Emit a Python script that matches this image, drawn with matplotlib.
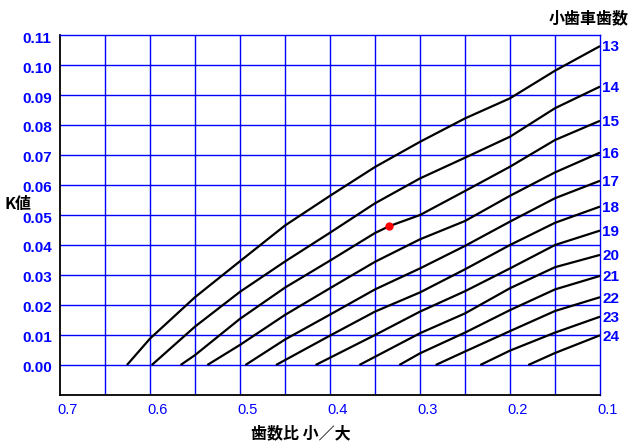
import matplotlib
matplotlib.use("Agg")
import matplotlib.pyplot as plt
import matplotlib.transforms as mtransforms

# ---- data ----
teeth = [13, 14, 15, 16, 17, 18, 19, 20, 21, 22, 23, 24]

ratio_13 = [0.6256, 0.60, 0.55, 0.50, 0.45, 0.40, 0.35, 0.30, 0.25, 0.20, 0.15, 0.10]
k_13 = [0.0, 0.0088, 0.0226, 0.0346, 0.0465, 0.0564, 0.0660, 0.0744, 0.0822, 0.0889, 0.0981, 0.1063]

ratio_14 = [0.598, 0.55, 0.50, 0.45, 0.40, 0.35, 0.30, 0.25, 0.20, 0.15, 0.10]
k_14 = [0.0, 0.0128, 0.0244, 0.0345, 0.0441, 0.0539, 0.0622, 0.0691, 0.0761, 0.0856, 0.0928]

ratio_15 = [0.566, 0.55, 0.50, 0.45, 0.40, 0.35, 0.334, 0.30, 0.25, 0.20, 0.15, 0.10]
k_15 = [0.0, 0.0033, 0.0154, 0.0258, 0.0348, 0.0440, 0.0463, 0.0500, 0.0580, 0.0661, 0.0750, 0.0814]

ratio_16 = [0.5363, 0.50, 0.45, 0.40, 0.35, 0.30, 0.25, 0.20, 0.15, 0.10]
k_16 = [0.0, 0.0067, 0.0167, 0.0256, 0.0344, 0.0419, 0.0480, 0.0564, 0.0642, 0.0708]

ratio_17 = [0.494, 0.45, 0.40, 0.35, 0.30, 0.25, 0.20, 0.15, 0.10]
k_17 = [0.0, 0.0085, 0.0168, 0.0252, 0.0322, 0.0397, 0.0478, 0.0556, 0.0614]

ratio_18 = [0.460, 0.40, 0.35, 0.30, 0.25, 0.20, 0.15, 0.10]
k_18 = [0.0, 0.0098, 0.0178, 0.0242, 0.0319, 0.0400, 0.0474, 0.0528]

ratio_19 = [0.4160, 0.35, 0.30, 0.25, 0.20, 0.15, 0.10]
k_19 = [0.0, 0.0100, 0.0178, 0.0246, 0.0322, 0.0400, 0.0448]

ratio_20 = [0.3674, 0.30, 0.25, 0.20, 0.15, 0.10]
k_20 = [0.0, 0.0106, 0.0172, 0.0256, 0.0326, 0.0367]

ratio_21 = [0.323, 0.30, 0.25, 0.20, 0.15, 0.10]
k_21 = [0.0, 0.0039, 0.0108, 0.0183, 0.0252, 0.0297]

ratio_22 = [0.2826, 0.25, 0.20, 0.15, 0.10]
k_22 = [0.0, 0.0045, 0.0113, 0.0180, 0.0226]

ratio_23 = [0.2330, 0.20, 0.15, 0.10]
k_23 = [0.0, 0.0048, 0.0108, 0.0161]

ratio_24 = [0.1797, 0.15, 0.10]
k_24 = [0.0, 0.0040, 0.0099]

curves_x = [ratio_13, ratio_14, ratio_15, ratio_16, ratio_17, ratio_18,
            ratio_19, ratio_20, ratio_21, ratio_22, ratio_23, ratio_24]
curves_y = [k_13, k_14, k_15, k_16, k_17, k_18, k_19, k_20, k_21, k_22, k_23, k_24]

point_x = [0.3341]
point_y = [0.0463]

y_ticks = [0.00, 0.01, 0.02, 0.03, 0.04, 0.05, 0.06, 0.07, 0.08, 0.09, 0.10, 0.11]
y_tick_labels = ["0.00", "0.01", "0.02", "0.03", "0.04", "0.05",
                 "0.06", "0.07", "0.08", "0.09", "0.10", "0.11"]
x_grid = [0.65, 0.60, 0.55, 0.50, 0.45, 0.40, 0.35, 0.30, 0.25, 0.20, 0.15]
x_ticks = [0.7, 0.6, 0.5, 0.4, 0.3, 0.2, 0.1]
x_tick_labels = ["0.7", "0.6", "0.5", "0.4", "0.3", "0.2", "0.1"]

x_label = "歯数比 小／大"
y_label = "K値"
right_title = "小歯車歯数"

# ---- styling ----
BLUE = "#0000ff"
W, H, DPI = 633, 447, 100
num_font = ["Liberation Sans", "DejaVu Sans"]
jp_font = ["Noto Sans CJK JP", "DejaVu Sans"]

fig = plt.figure(figsize=(W / DPI, H / DPI), dpi=DPI)
ax = fig.add_axes([60 / W, (H - 395) / H, 540 / W, 360 / H])
ax.set_xlim(0.7, 0.1)
ax.set_ylim(-0.01, 0.11)

for xv in x_grid:
    ax.axvline(xv, color=BLUE, lw=1.0, zorder=1)
for yv in y_ticks[:-1]:
    ax.axhline(yv, color=BLUE, lw=1.0, zorder=1)

for s in ("left", "bottom"):
    ax.spines[s].set_color("black")
    ax.spines[s].set_linewidth(1.3)
for s in ("top", "right"):
    ax.spines[s].set_color(BLUE)
    ax.spines[s].set_linewidth(1.0)

for xs, ys in zip(curves_x, curves_y):
    ax.plot(xs, ys, color="black", lw=1.6, zorder=3, solid_capstyle="butt")

ax.plot(point_x, point_y, "o", color="#ff0000", markersize=6, zorder=4,
        markeredgewidth=0)

ax.set_yticks(y_ticks)
ax.set_yticklabels(y_tick_labels, color=BLUE, fontweight="bold",
                   fontsize=11, family=num_font)
ax.set_xticks(x_ticks)
ax.set_xticklabels(x_tick_labels, color=BLUE, fontsize=10.5, family=num_font)
ax.tick_params(axis="both", length=0)
ax.tick_params(axis="y", pad=6)
ax.tick_params(axis="x", pad=6)
off = mtransforms.ScaledTranslation(-3 / DPI, 0, fig.dpi_scale_trans)
for lab in ax.get_xticklabels():
    lab.set_horizontalalignment("left")
    lab.set_transform(lab.get_transform() + off)
offy = mtransforms.ScaledTranslation(0, -2 / DPI, fig.dpi_scale_trans)
for lab in ax.get_yticklabels():
    lab.set_transform(lab.get_transform() + offy)

# curve labels at right end
for t, xs, ys in zip(teeth, curves_x, curves_y):
    ax.annotate(str(t), xy=(xs[-1], ys[-1]), xytext=(1.5, -1),
                textcoords="offset points", ha="left", va="center",
                color=BLUE, fontweight="bold", fontsize=11,
                family=num_font, annotation_clip=False)

fig.text(301 / W, 1 - 433 / H, x_label, ha="center", va="center",
         fontsize=11.5, fontweight="bold", family=jp_font)
fig.text(4 / W, 1 - 204 / H, y_label, ha="left", va="center",
         fontsize=11.5, fontweight="bold", family=jp_font)
fig.text(629 / W, 1 - 18 / H, right_title, ha="right", va="center",
         fontsize=11.5, fontweight="bold", family=jp_font)

fig.savefig("out.png", dpi=DPI)
